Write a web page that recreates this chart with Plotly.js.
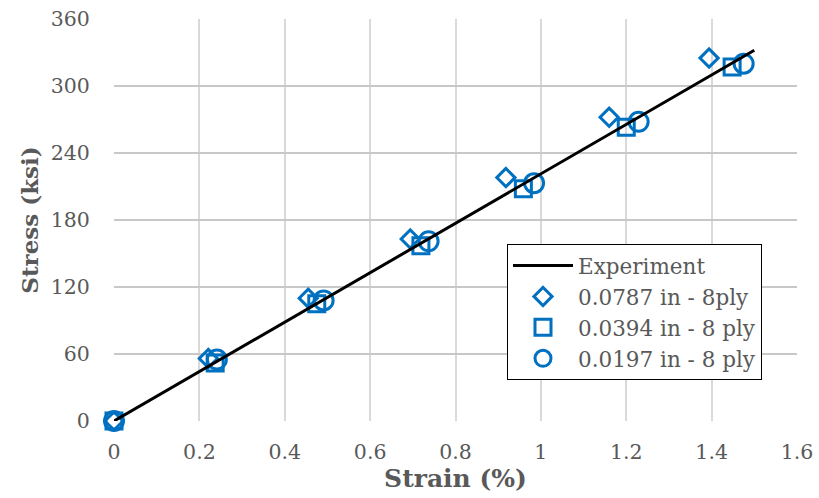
<!DOCTYPE html>
<html>
<head>
<meta charset="utf-8">
<script src="https://cdn.plot.ly/plotly-3.0.1.min.js"></script>
<style>html,body{margin:0;padding:0;background:#fff;}#chart{width:819px;height:498px;}</style>
</head>
<body>
<div id="chart"></div>
<script>
// Experiment curve
const expStrain = [0, 1.5];
const expStress = [0, 332];
// 0.0787 in - 8ply
const d1Strain = [0, 0.221, 0.455, 0.694, 0.918, 1.160, 1.394];
const d1Stress = [0, 56, 110, 163, 218, 272, 325];
// 0.0394 in - 8 ply
const d2Strain = [0, 0.237, 0.475, 0.719, 0.959, 1.200, 1.448];
const d2Stress = [0, 52, 105, 157, 208, 263, 317];
// 0.0197 in - 8 ply
const d3Strain = [0, 0.241, 0.491, 0.737, 0.984, 1.229, 1.475];
const d3Stress = [0, 55, 108, 161, 213, 268, 320];

const xTicks = [0, 0.2, 0.4, 0.6, 0.8, 1, 1.2, 1.4, 1.6];
const xTickText = ["0", "0.2", "0.4", "0.6", "0.8", "1", "1.2", "1.4", "1.6"];
const yTicks = [0, 60, 120, 180, 240, 300, 360];

const blue = '#0070C0';
const serif = 'DejaVu Serif';

const data = [
  {x: d1Strain, y: d1Stress, mode: 'markers', type: 'scatter', name: '0.0787 in - 8ply', legendrank: 2,
   cliponaxis: false,
   marker: {symbol: 'diamond-open', size: 14, color: blue, line: {width: 3, color: blue}}},
  {x: d2Strain, y: d2Stress, mode: 'markers', type: 'scatter', name: '0.0394 in - 8 ply', legendrank: 3,
   cliponaxis: false,
   marker: {symbol: 'square-open', size: 16, color: blue, line: {width: 3, color: blue}}},
  {x: d3Strain, y: d3Stress, mode: 'markers', type: 'scatter', name: '0.0197 in - 8 ply', legendrank: 4,
   cliponaxis: false,
   marker: {symbol: 'circle-open', size: 19, color: blue, line: {width: 3, color: blue}}},
  {x: expStrain, y: expStress, mode: 'lines', type: 'scatter', name: 'Experiment', legendrank: 1,
   cliponaxis: false,
   line: {color: '#000000', width: 3}}
];

const layout = {
  width: 819, height: 498,
  margin: {l: 114, r: 22, t: 19, b: 77},
  paper_bgcolor: '#ffffff', plot_bgcolor: '#ffffff',
  font: {family: serif, color: '#595959'},
  showlegend: true,
  legend: {
    x: 0.5754, y: 0.4403, xanchor: 'left', yanchor: 'top',
    bgcolor: '#ffffff', bordercolor: '#000000', borderwidth: 1,
    font: {family: serif, size: 21.5, color: '#595959'},
    itemwidth: 60, tracegroupgap: 0
  },
  xaxis: {
    range: [0, 1.6], tickmode: 'array', tickvals: xTicks, ticktext: xTickText,
    showgrid: true, gridcolor: '#d9d9d9', gridwidth: 2,
    zeroline: false, showline: false, ticks: 'outside', ticklen: 12, tickcolor: 'rgba(0,0,0,0)',
    tickfont: {family: serif, size: 20.5, color: '#595959'},
    title: {text: '<b>Strain (%)</b>', font: {family: serif, size: 25, color: '#595959'}, standoff: 0}
  },
  yaxis: {
    range: [0, 360], tickmode: 'array', tickvals: yTicks,
    showgrid: true, gridcolor: '#c8c8c8', gridwidth: 2,
    zeroline: false, showline: false, ticks: 'outside', ticklen: 19, tickcolor: 'rgba(0,0,0,0)',
    tickfont: {family: serif, size: 20.5, color: '#595959'},
    title: {text: '<b>Stress (ksi)</b>', font: {family: serif, size: 23, color: '#595959'}, standoff: 5}
  }
};

Plotly.newPlot('chart', data, layout, {displayModeBar: false, staticPlot: true});
</script>
</body>
</html>
